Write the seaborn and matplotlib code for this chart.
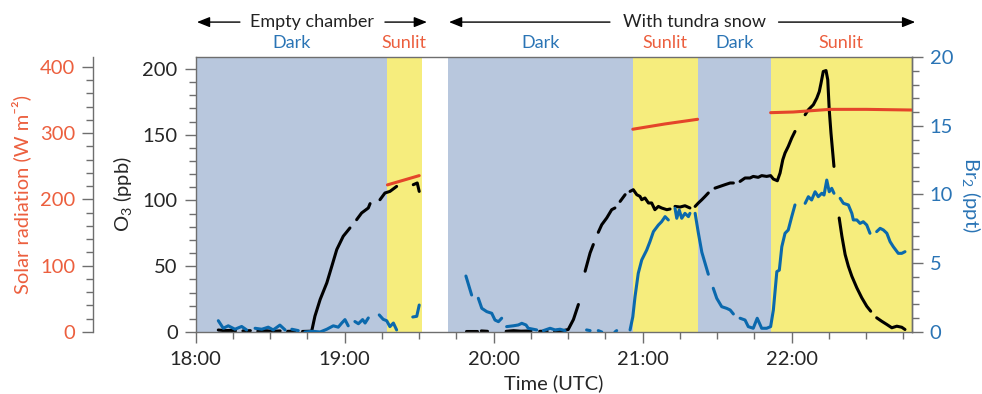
import numpy as np
import pandas as pd
import seaborn as sns
import matplotlib.pyplot as plt
from matplotlib.ticker import MultipleLocator, FixedLocator

nan = np.nan

# time in minutes after 18:00 UTC, nan marks a gap in the record
o3_min = [9.1, 11.5, 14.0, 16.0, nan,
          19.0, 22.0, nan,
          25.0, 28.0, 31.0, 34.0, nan,
          37.0, 40.0, nan,
          43.0, 46.7, 48.0, 50.1, 52.8, 54.8, 56.8, 59.4, 62.1, nan,
          64.8, 66.8, 69.5, 70.2, nan,
          74.2, 76.2, 78.2, 80.9, nan,
          87.6, 89.2, 90.0, nan,
          108.9, 113.2, nan,
          115.0, 117.5, nan,
          125.0, 128.0, 131.0, 135.0, nan,
          138.5, 141.5, nan,
          144.5, 147.0, 150.0, 152.1, 154.1, nan,
          156.8, 158.8, 160.1, nan,
          162.1, 163.5, 165.5, 167.5, 168.8, nan,
          170.9, 172.9, nan,
          174.9, 176.2, 177.6, 178.9, 179.6, 180.9, 182.3, 183.6, 184.9, 186.3, 187.6, 189.7, 191.0, nan,
          193.0, 195.0, 197.0, 199.0, nan,
          201.1, 202.4, 203.8, 205.1, 206.4, nan,
          209.1, 211.1, 213.1, 215.2, 216.5, nan,
          219.2, 221.2, 223.2, 224.5, 226.5, 227.9, 229.9, 231.5, 232.6, 234.2, 235.3, 236.4, 237.3, 238.6, 240.0, 241.3, nan,
          245.4, 246.7, 248.7, 250.1, 251.1, 251.8, 252.7, 253.8, 254.5, 255.1, 255.8, 257.0, nan,
          259.1, 260.2, 261.5, 262.8, 264.2, 266.2, 268.2, 270.2, 271.8, nan,
          274.2, 276.2, 278.3, 280.3, 282.3, 284.3, 285.6]
o3_ppb = [1.5, 1.0, 1.2, 0.8, nan,
          0.8, 1.0, nan,
          0.6, 1.0, 0.5, 0.8, nan,
          0.5, 0.6, nan,
          0.4, 0.6, 12.0, 24.7, 37.4, 50.0, 62.7, 72.8, 79.1, nan,
          85.4, 90.5, 94.3, 97.6, nan,
          100.6, 105.7, 106.9, 110.7, nan,
          112.0, 113.3, 106.9, nan,
          1.0, 1.0, nan,
          0.8, 0.5, nan,
          0.5, 1.0, 0.6, 0.8, nan,
          0.5, 0.6, nan,
          0.5, 0.6, 1.9, 9.5, 20.9, nan,
          46.2, 60.1, 66.5, nan,
          75.8, 81.6, 86.7, 93.0, 94.3, nan,
          99.3, 104.4, nan,
          106.9, 108.2, 104.4, 103.1, 100.6, 101.9, 98.1, 98.1, 93.0, 95.5, 94.3, 93.0, 93.5, nan,
          95.5, 95.0, 96.0, 94.3, nan,
          95.5, 98.1, 100.6, 103.1, 105.7, nan,
          109.4, 110.7, 112.0, 113.3, 113.3, nan,
          114.5, 117.1, 117.1, 118.3, 117.6, 118.9, 118.3, 118.9, 116.3, 115.0, 120.9, 131.0, 136.1, 141.1, 147.5, 152.5, nan,
          165.2, 169.0, 172.8, 177.9, 182.9, 189.3, 198.1, 198.8, 191.8, 169.0, 151.3, 125.9, nan,
          86.7, 72.8, 58.9, 50.0, 42.4, 33.6, 26.0, 19.6, 15.8, nan,
          10.8, 8.2, 5.7, 3.2, 4.4, 3.6, 1.9]

br2_min = [9.1, 11.1, 13.1, 15.8, 18.5, 20.5, nan,
           23.9, 26.6, 29.2, 31.2, 33.9, 36.0, nan,
           38.7, 41.3, nan,
           44.0, 47.0, 50.1, 52.8, 55.4, 57.4, 58.8, 60.1, 61.4, nan,
           64.1, 65.5, 67.2, 68.2, 69.5, nan,
           73.9, 75.5, 76.9, 78.2, 79.6, 80.9, nan,
           87.4, 89.0, 90.0, nan,
           108.8, 111.1, nan,
           113.8, 115.2, 117.2, 119.2, 120.5, 121.9, 123.2, nan,
           125.2, 127.9, 129.9, 131.3, 133.0, 133.9, 135.9, 137.3, nan,
           140.0, 142.7, 144.7, 146.7, 148.7, nan,
           157.4, 158.8, nan,
           162.1, 163.5, nan,
           168.8, 169.5, nan,
           174.9, 176.0, 176.9, 178.2, 179.6, 181.6, 182.9, 184.3, 186.3, 187.6, 189.0, 190.3, nan,
           193.0, 193.7, 194.7, 195.7, 197.0, 198.4, 199.0, nan,
           201.1, 202.4, 203.8, 205.1, 206.4, nan,
           208.4, 209.8, 211.8, 213.8, 215.2, 216.5, nan,
           219.2, 221.2, 222.5, 224.5, 226.1, 227.9, 229.9, 231.5, 232.6, 234.0, 235.0, 236.0, 237.3, 238.6, 240.0, 241.3, nan,
           245.4, 246.7, 248.0, 249.4, 250.7, 252.1, 253.0, 254.1, 255.1, 256.1, 257.0, nan,
           259.5, 260.8, 262.8, 264.2, 264.8, 266.2, 267.5, 268.8, 270.2, 271.5, nan,
           274.2, 275.6, 276.9, 278.3, 279.6, 280.9, 282.9, 284.3, 285.6]
br2_ppt = [0.82, 0.27, 0.45, 0.2, 0.4, 0.15, nan,
           0.27, 0.2, 0.35, 0.15, 0.5, 0.15, nan,
           0.2, 0.1, nan,
           0.0, 0.05, 0.0, 0.2, 0.45, 0.35, 0.65, 0.9, 0.45, nan,
           0.76, 0.6, 0.9, 0.65, 1.02, nan,
           1.24, 0.92, 0.82, 0.39, 0.65, 0.15, nan,
           1.09, 1.14, 1.96, nan,
           4.07, 2.69, nan,
           2.45, 1.72, 1.48, 1.36, 0.87, 0.75, 1.0, nan,
           0.39, 0.45, 0.51, 0.63, 0.51, 0.27, 0.2, 0.15, nan,
           0.1, 0.27, 0.15, 0.2, 0.1, nan,
           0.15, 0.1, nan,
           0.1, 0.0, nan,
           0.0, 0.1, nan,
           0.15, 1.1, 2.57, 4.27, 5.24, 5.96, 6.57, 7.3, 7.78, 8.02, 8.39, 8.15, nan,
           9.0, 8.27, 8.87, 8.27, 8.63, 8.39, 8.63, nan,
           8.63, 7.2, 5.8, 5.0, 4.2, nan,
           3.18, 2.45, 1.84, 1.72, 1.6, 1.31, nan,
           1.0, 0.87, 0.39, 0.27, 1.0, 0.27, 0.27, 0.39, 1.6, 4.39, 4.5, 6.2, 7.18, 7.42, 8.39, 9.24, nan,
           9.36, 9.84, 9.6, 10.2, 9.84, 10.09, 9.96, 11.05, 10.2, 10.45, 10.09, nan,
           9.72, 9.36, 9.24, 8.63, 8.15, 8.15, 7.9, 8.02, 7.78, 7.18, nan,
           7.3, 7.54, 7.42, 7.18, 6.57, 6.2, 5.72, 5.72, 5.84]

sun_min = [77.2, 90.0, nan, 176.0, 189.0, 202.1, nan, 231.5, 240.6, 255.4, 270.0, 288.3]
sun_wm2 = [222, 236, nan, 306, 314, 321, nan, 331, 332, 336, 336, 335]

# light periods (minutes after 18:00)
phase_start = [0.0, 76.9, 101.7, 176.0, 202.1, 231.5]
phase_end = [76.9, 91.0, 176.0, 202.1, 231.5, 288.3]
phase_name = ["Dark", "Sunlit", "Dark", "Sunlit", "Dark", "Sunlit"]

hour_ticks = [0, 60, 120, 180, 240]
hour_labels = ["18:00", "19:00", "20:00", "21:00", "22:00"]

DARK_BG = "#b8c7dd"
SUN_BG = "#f6ed7d"
BLUE = "#0b69ad"
BLUE_TXT = "#2a74b5"
RED = "#e4452a"
RED_TXT = "#ec5f3e"
GREY = "#6e6e6e"


def to_frame(t, v):
    df = pd.DataFrame({"t": t, "v": v})
    df["seg"] = df["v"].isna().cumsum()
    return df.dropna()


sns.set_theme(style="ticks")
plt.rcParams["font.family"] = ["Lato", "DejaVu Sans"]
plt.rcParams["mathtext.fontset"] = "custom"
plt.rcParams["mathtext.rm"] = "Lato"
plt.rcParams["mathtext.default"] = "regular"

fig = plt.figure(figsize=(9.82, 3.94), dpi=100)
ax = fig.add_axes([0.1993, 0.1574, 0.7291, 0.6979])
ax_br = ax.twinx()
ax_sun = ax.twinx()

# background shading
for s, e, name in zip(phase_start, phase_end, phase_name):
    ax.axvspan(s, e, color=DARK_BG if name == "Dark" else SUN_BG, lw=0, zorder=0)
    ax.text((s + e) / 2, 1.05, name, transform=ax.get_xaxis_transform(),
            ha="center", va="center", fontsize=13,
            color=BLUE_TXT if name == "Dark" else RED_TXT)

sns.lineplot(data=to_frame(o3_min, o3_ppb), x="t", y="v", units="seg",
             estimator=None, color="black", lw=2.2, ax=ax, legend=False)
sns.lineplot(data=to_frame(br2_min, br2_ppt), x="t", y="v", units="seg",
             estimator=None, color=BLUE, lw=2.2, ax=ax_br, legend=False)
sns.lineplot(data=to_frame(sun_min, sun_wm2), x="t", y="v", units="seg",
             estimator=None, color=RED, lw=2.2, ax=ax_sun, legend=False)

ax.set_xlim(0, 288.3)
ax.set_ylim(0, 209.1)
ax_br.set_ylim(0, 20)
ax_sun.set_ylim(0, 415)

FS = 14.5

# x axis
ax.xaxis.set_major_locator(FixedLocator(hour_ticks))
ax.set_xticklabels(hour_labels)
ax.xaxis.set_minor_locator(MultipleLocator(15))
ax.set_xlabel("Time (UTC)", fontsize=FS, labelpad=4)

# O3 axis
ax.yaxis.set_major_locator(MultipleLocator(50))
ax.yaxis.set_minor_locator(MultipleLocator(10))
ax.set_ylabel(r"O$_3$ (ppb)", fontsize=FS, labelpad=6)

# Br2 axis
ax_br.yaxis.set_major_locator(MultipleLocator(5))
ax_br.yaxis.set_minor_locator(MultipleLocator(1))
ax_br.set_ylabel(r"Br$_2$ (ppt)", fontsize=FS, color=BLUE_TXT, rotation=270,
                 va="bottom", labelpad=5)

# solar axis, detached on the left
ax_sun.spines["left"].set_position(("axes", -0.1434))
ax_sun.yaxis.set_ticks_position("left")
ax_sun.yaxis.set_label_position("left")
ax_sun.yaxis.set_major_locator(MultipleLocator(100))
ax_sun.yaxis.set_minor_locator(MultipleLocator(20))
ax_sun.set_ylabel("Solar radiation (W m\u207b\u00b2)", fontsize=FS, color=RED_TXT,
                  labelpad=6)

for a in (ax, ax_br, ax_sun):
    for sp in a.spines.values():
        sp.set_color(GREY)
        sp.set_linewidth(1)
    a.tick_params(which="major", length=8, width=1, color=GREY, labelsize=FS, pad=5)
    a.tick_params(which="minor", length=4.8, width=1, color=GREY)
for sp in ("left", "top", "bottom"):
    ax_br.spines[sp].set_visible(False)
for sp in ("right", "top", "bottom"):
    ax_sun.spines[sp].set_visible(False)
ax.tick_params(axis="x", which="major", length=8, pad=6)
ax.tick_params(axis="x", which="minor", length=5)
ax_br.tick_params(axis="y", which="both", labelcolor=BLUE_TXT)
ax_sun.tick_params(axis="y", which="both", labelcolor=RED_TXT)

# experiment annotations above the panel
trans = ax.get_xaxis_transform()
for text, x0, x1, in_l, in_r in [("Empty chamber", 0.5, 93.1, 17.8, 76.2),
                                 ("With tundra snow", 102.0, 289.7, 166.8, 234.7)]:
    ax.text((in_l + in_r) / 2, 1.127, text, transform=trans, ha="center",
            va="center", fontsize=13, color="#222222")
    for tail, tip in [(in_l, x0), (in_r, x1)]:
        ax.annotate("", xy=(tip, 1.127), xytext=(tail, 1.127), xycoords=trans,
                    textcoords=trans, annotation_clip=False,
                    arrowprops=dict(arrowstyle="-|>,head_length=0.55,head_width=0.22",
                                    color="black", lw=1, shrinkA=0, shrinkB=0,
                                    mutation_scale=14))

fig.savefig("out.png", dpi=100)
